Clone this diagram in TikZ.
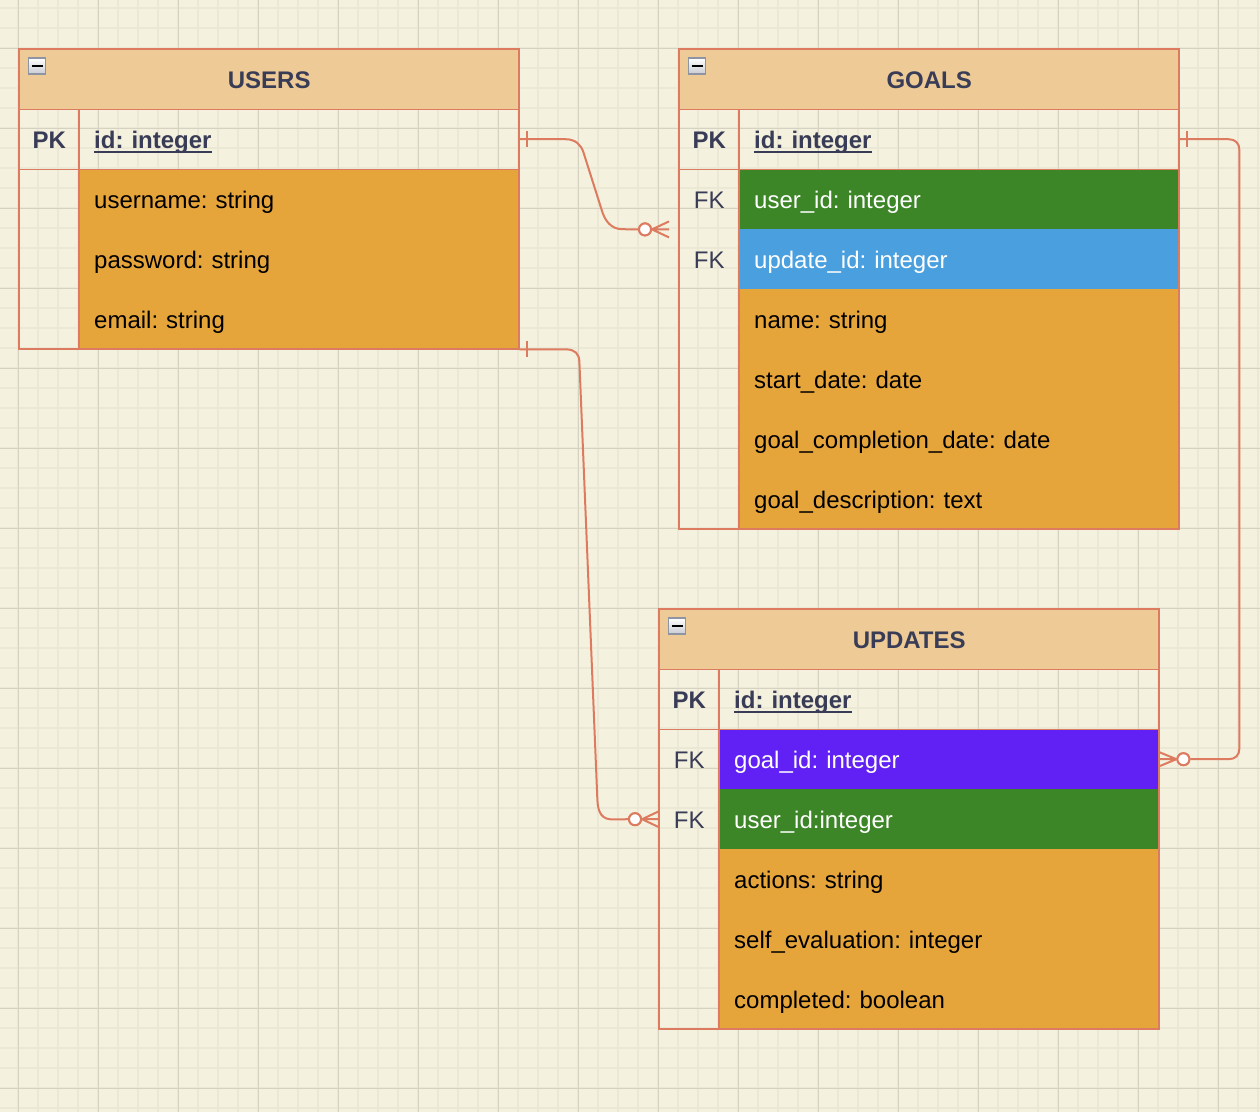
\documentclass[tikz,border=0pt]{standalone}
\usepackage{fontspec}
\setmainfont{Liberation Sans}
\usetikzlibrary{calc,shadings}
\frenchspacing
\definecolor{bg}{HTML}{F4F1DE}
\definecolor{gmin}{HTML}{EBE8D5}
\definecolor{gmaj}{HTML}{D5D2C1}
\definecolor{hdr}{HTML}{EECB96}
\definecolor{strk}{HTML}{DD7B60}
\definecolor{txt}{HTML}{393C56}
\definecolor{org}{HTML}{E6A53A}
\definecolor{grn}{HTML}{3C8627}
\definecolor{blu}{HTML}{4A9FDE}
\definecolor{pur}{HTML}{6121F4}
\definecolor{icb}{HTML}{8D94A3}
\definecolor{icf}{HTML}{C9CBD1}
\newcommand\pkul[1]{\setbox0\hbox{#1}\rlap{\rule[-4.5pt]{\wd0}{2pt}}\box0}
\newcommand\fsz{\fontsize{24}{28}\selectfont\frenchspacing}
\tikzset{
  tblborder/.style={draw=strk, line width=2pt},
  tblinner/.style={draw=strk, line width=1.8pt},
  hdrbox/.style={anchor=north west, fill=hdr, minimum width=500pt, minimum height=60pt,
    inner sep=0pt, font=\fsz\bfseries, text=txt, text height=19pt, text depth=0pt},
  keycell/.style={anchor=north west, minimum width=60pt, minimum height=60pt, inner sep=0pt,
    text=txt, font=\fsz, text height=19pt, text depth=0pt},
  pkcell/.style={keycell, font=\fsz\bfseries},
  valcell/.style={anchor=north west, minimum height=60pt, text width=410pt, inner xsep=15pt,
    inner ysep=0pt, align=left, font=\fsz, text height=19pt, text depth=0pt},
  pkval/.style={valcell, text=txt, font=\fsz\bfseries},
  orangerow/.style={valcell, fill=org, text=black},
  greenrow/.style={valcell, fill=grn, text=white},
  bluerow/.style={valcell, fill=blu, text=white},
  purplerow/.style={valcell, fill=pur, text=white},
  iconbox/.style={draw=icb, line width=1.5pt, top color=white, bottom color=icf,
    minimum width=17pt, minimum height=16pt, inner sep=0pt},
  relline/.style={draw=strk, line width=2pt},
  ocirc/.style={circle, draw=strk, fill=white, line width=2pt, minimum size=12pt, inner sep=0pt},
}
\begin{document}
\begin{tikzpicture}[x=1pt, y=-1pt]
\useasboundingbox (0,0) rectangle (1260,1112);
\fill[bg] (0,0) rectangle (1260,1112);
\foreach \x in {18,38,...,1258} \draw[gmin, line width=1.6pt] (\x,0) -- (\x,1112);
\foreach \y in {8,28,...,1108} \draw[gmin, line width=1.6pt] (0,\y) -- (1260,\y);
\foreach \x in {18,98,...,1218} \draw[gmaj, line width=1pt] (\x,0) -- (\x,1112);
\foreach \y in {48,128,...,1088} \draw[gmaj, line width=1pt] (0,\y) -- (1260,\y);

% ---------------- USERS ----------------
\node[hdrbox] (users-h) at (19,49) {USERS};
\node[pkcell] (users-pkk) at (19,109) {PK};
\node[pkval] (users-pk) at (79,109) {\pkul{id: integer}};
\node[orangerow] (users-r1) at (79,169) {username: string};
\node[orangerow] (users-r2) at (79,229) {password: string};
\node[orangerow] (users-r3) at (79,289) {email: string};
\draw[tblinner] (users-h.south west) -- (users-h.south east);
\draw[tblinner] (users-pkk.south west) -- (users-pk.south east);
\draw[tblinner] (users-pk.north west) -- (users-r3.south west);
\draw[tblborder] (users-h.north west) rectangle (users-r3.south east);
\node[iconbox] (users-ic) at ($(users-h.north west)+(18,17)$) {};
\draw[black, line width=2.5pt] ($(users-ic.center)+(-5.5,0)$) -- ($(users-ic.center)+(5.5,0)$);

% ---------------- GOALS ----------------
\node[hdrbox] (goals-h) at (679,49) {GOALS};
\node[pkcell] (goals-pkk) at (679,109) {PK};
\node[pkval] (goals-pk) at (739,109) {\pkul{id: integer}};
\node[keycell] (goals-r1k) at (679,169) {FK};
\node[greenrow] (goals-r1) at (739,169) {user\_id: integer};
\node[keycell] (goals-r2k) at (679,229) {FK};
\node[bluerow] (goals-r2) at (739,229) {update\_id: integer};
\node[orangerow] (goals-r3) at (739,289) {name: string};
\node[orangerow] (goals-r4) at (739,349) {start\_date: date};
\node[orangerow] (goals-r5) at (739,409) {goal\_completion\_date: date};
\node[orangerow] (goals-r6) at (739,469) {goal\_description: text};
\draw[tblinner] (goals-h.south west) -- (goals-h.south east);
\draw[tblinner] (goals-pkk.south west) -- (goals-pk.south east);
\draw[tblinner] (goals-pk.north west) -- (goals-r6.south west);
\draw[tblborder] (goals-h.north west) rectangle (goals-r6.south east);
\node[iconbox] (goals-ic) at ($(goals-h.north west)+(18,17)$) {};
\draw[black, line width=2.5pt] ($(goals-ic.center)+(-5.5,0)$) -- ($(goals-ic.center)+(5.5,0)$);

% ---------------- UPDATES ----------------
\node[hdrbox] (updates-h) at (659,609) {UPDATES};
\node[pkcell] (updates-pkk) at (659,669) {PK};
\node[pkval] (updates-pk) at (719,669) {\pkul{id: integer}};
\node[keycell] (updates-r1k) at (659,729) {FK};
\node[purplerow] (updates-r1) at (719,729) {goal\_id: integer};
\node[keycell] (updates-r2k) at (659,789) {FK};
\node[greenrow] (updates-r2) at (719,789) {user\_id:integer};
\node[orangerow] (updates-r3) at (719,849) {actions: string};
\node[orangerow] (updates-r4) at (719,909) {self\_evaluation: integer};
\node[orangerow] (updates-r5) at (719,969) {completed: boolean};
\draw[tblinner] (updates-h.south west) -- (updates-h.south east);
\draw[tblinner] (updates-pkk.south west) -- (updates-pk.south east);
\draw[tblinner] (updates-pk.north west) -- (updates-r5.south west);
\draw[tblborder] (updates-h.north west) rectangle (updates-r5.south east);
\node[iconbox] (updates-ic) at ($(updates-h.north west)+(18,17)$) {};
\draw[black, line width=2.5pt] ($(updates-ic.center)+(-5.5,0)$) -- ($(updates-ic.center)+(5.5,0)$);

% ---------------- connectors ----------------
% USERS.id -> GOALS.user_id
\coordinate (c1end) at ($(goals-r1k.south west)+(-10,0)$);
\node[ocirc] (o1) at ($(c1end)+(-24,0)$) {};
\draw[relline] (users-pk.east) -- ($(users-pk.east)+(46,0)$)
  .. controls ($(users-pk.east)+(56,0)$) and ($(users-pk.east)+(61.5,5.5)$) .. ($(users-pk.east)+(64,13)$)
  -- ($(users-pk.east)+(83,73)$)
  .. controls ($(users-pk.east)+(86,82)$) and ($(users-pk.east)+(92,90)$) .. ($(users-pk.east)+(103,90)$)
  -- (o1.west);
\draw[relline] ($(users-pk.east)+(8,-8)$) -- ($(users-pk.east)+(8,8)$);
\draw[relline] (o1.east) -- (c1end) (o1.east) -- ($(c1end)+(0,-8)$) (o1.east) -- ($(c1end)+(0,8)$);
\node[ocirc] at (o1.center) {};

% USERS -> UPDATES.user_id
\node[ocirc] (o2) at ($(updates-r2k.west)+(-24,0)$) {};
\draw[relline] (users-r3.south east) -- ($(users-r3.south east)+(47,0)$)
  .. controls ($(users-r3.south east)+(55,0)$) and ($(users-r3.south east)+(60,4)$) .. ($(users-r3.south east)+(60,13)$)
  -- ($(users-r3.south east)+(78,451)$)
  .. controls ($(users-r3.south east)+(78.6,464)$) and ($(users-r3.south east)+(83,470)$) .. ($(users-r3.south east)+(93,470)$)
  -- (o2.west);
\draw[relline] ($(users-r3.south east)+(8,-8)$) -- ($(users-r3.south east)+(8,8)$);
\draw[relline] (o2.east) -- (updates-r2k.west) (o2.east) -- ($(updates-r2k.west)+(0,-8)$) (o2.east) -- ($(updates-r2k.west)+(0,8)$);
\node[ocirc] at (o2.center) {};

% GOALS.id -> UPDATES.goal_id
\node[ocirc] (o3) at ($(updates-r1.east)+(24,0)$) {};
\draw[relline] (goals-pk.east) -- ($(goals-pk.east)+(49,0)$)
  .. controls ($(goals-pk.east)+(56,0)$) and ($(goals-pk.east)+(60,4)$) .. ($(goals-pk.east)+(60,11)$)
  -- ($(goals-pk.east)+(60,609)$)
  .. controls ($(goals-pk.east)+(60,616)$) and ($(goals-pk.east)+(56,620)$) .. ($(goals-pk.east)+(49,620)$)
  -- (o3.east);
\draw[relline] ($(goals-pk.east)+(8,-8)$) -- ($(goals-pk.east)+(8,8)$);
\draw[relline] (o3.west) -- (updates-r1.east) (o3.west) -- ($(updates-r1.east)+(0,-7)$) (o3.west) -- ($(updates-r1.east)+(0,7)$);
\node[ocirc] at (o3.center) {};
\end{tikzpicture}
\end{document}
